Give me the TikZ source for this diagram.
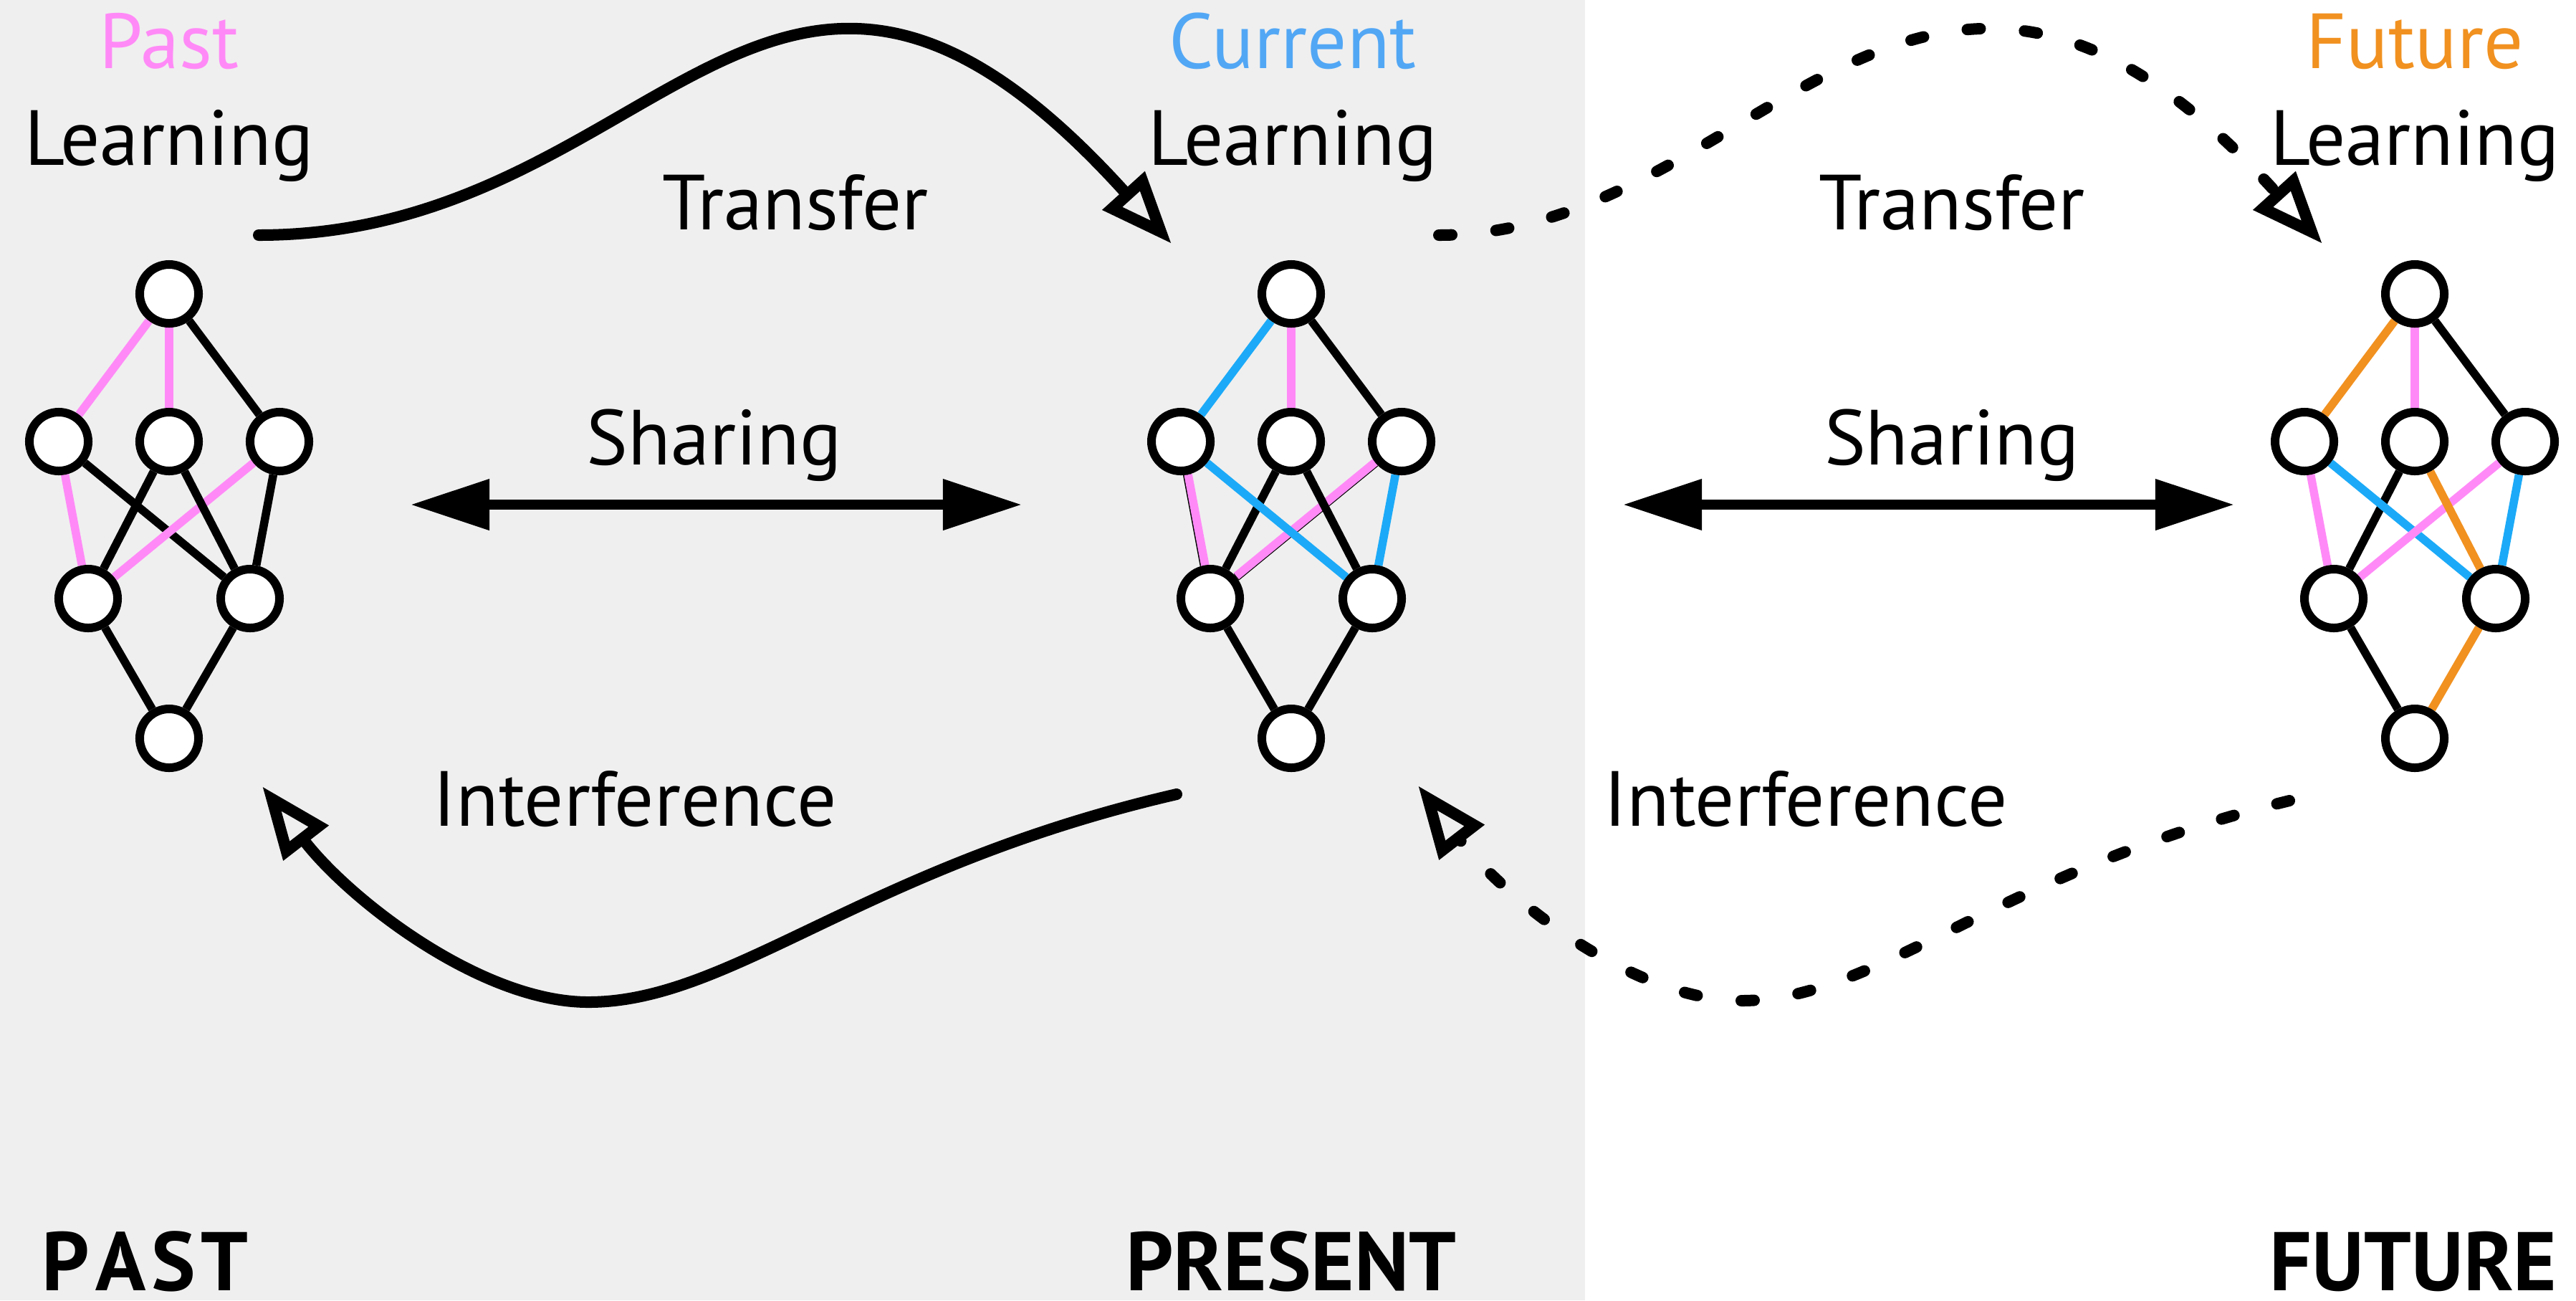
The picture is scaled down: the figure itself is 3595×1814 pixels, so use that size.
\documentclass[tikz,border=0pt]{standalone}
\usepackage{fontspec}
\setmainfont{PT Sans}
\usetikzlibrary{arrows.meta}
\definecolor{pastpink}{RGB}{255,138,247}
\definecolor{curblue}{RGB}{28,170,248}
\definecolor{curtext}{RGB}{82,167,245}
\definecolor{futorange}{RGB}{241,145,32}
\definecolor{bggray}{RGB}{239,239,239}
\pgfdeclarelayer{bg}
\pgfdeclarelayer{links}
\pgfsetlayers{bg,links,main}

\begin{document}
\begin{tikzpicture}[x=0.01cm, y=-0.01cm,
		neuron/.style={circle, draw, fill=white, line width=1.2mm,
			minimum size=8.2mm, inner sep=0pt},
		link/.style={line width=1.15mm},
		pk/.style={link, pastpink},
		bl/.style={link, curblue},
		og/.style={link, futorange},
		bk/.style={link, black},
		lbl/.style={font=\fontsize{31}{36}\selectfont, anchor=base, inner sep=0pt},
		era/.style={font=\bfseries\fontsize{33}{38}\selectfont, anchor=base, inner sep=0pt},
		flow/.style={line width=1.6mm, line cap=round, -{Triangle[open, length=10mm, width=7.6mm]}},
		flowdash/.style={flow, dash pattern=on 1.8mm off 6.2mm},
		share/.style={line width=1.4mm, {Triangle[length=11mm, width=6.8mm]}-{Triangle[length=11mm, width=6.8mm]}}]
	\useasboundingbox (0,0) rectangle (3595,1814);
	\begin{pgfonlayer}{bg}
		\fill[white] (0,0) rectangle (3595,1814);
		\fill[bggray] (0,0) rectangle (2212,1814);
	\end{pgfonlayer}
	% the three networks
	\foreach \n/\x in {p/236,c/1802,f/3370}{
		\node[neuron] (\n1) at (\x,410) {};
		\node[neuron] (\n2) at (\x-154,616) {};
		\node[neuron] (\n3) at (\x,616) {};
		\node[neuron] (\n4) at (\x+154,616) {};
		\node[neuron] (\n5) at (\x-113,835) {};
		\node[neuron] (\n6) at (\x+113,835) {};
		\node[neuron] (\n7) at (\x,1030) {};
	}
	\begin{pgfonlayer}{links}
		% past
		\draw[pk] (p1) -- (p2);
		\draw[pk] (p1) -- (p3);
		\draw[bk] (p1) -- (p4);
		\draw[pk] (p2) -- (p5);
		\draw[bk] (p2) -- (p6);
		\draw[pk] (p4) -- (p5);
		\draw[bk] (p3) -- (p5);
		\draw[bk] (p3) -- (p6);
		\draw[bk] (p4) -- (p6);
		\draw[bk] (p5) -- (p7);
		\draw[bk] (p6) -- (p7);
		% present
		\draw[bl] (c1) -- (c2);
		\draw[pk] (c1) -- (c3);
		\draw[bk] (c1) -- (c4);
		\draw[bk] (c2) -- (c5);
		\draw[pk, transform canvas={xshift=0.15mm}] (c2) -- (c5);
		\draw[bk] (c3) -- (c5);
		\draw[bk] (c4) -- (c5);
		\draw[pk, transform canvas={yshift=0.15mm}] (c4) -- (c5);
		\draw[bl] (c2) -- (c6);
		\draw[bk] (c3) -- (c6);
		\draw[bl] (c4) -- (c6);
		\draw[bk] (c5) -- (c7);
		\draw[bk] (c6) -- (c7);
		% future
		\draw[og] (f1) -- (f2);
		\draw[pk] (f1) -- (f3);
		\draw[bk] (f1) -- (f4);
		\draw[pk] (f2) -- (f5);
		\draw[bk] (f3) -- (f5);
		\draw[bl] (f2) -- (f6);
		\draw[pk] (f4) -- (f5);
		\draw[og] (f3) -- (f6);
		\draw[bl] (f4) -- (f6);
		\draw[bk] (f5) -- (f7);
		\draw[og] (f6) -- (f7);
	\end{pgfonlayer}
	% titles
	\node[lbl, pastpink] (pasttop) at (236,95) {Past};
	\node[lbl] (pastlearn) at (236,230) {Learning};
	\node[lbl, curtext] (curtop) at (1804,95) {Current};
	\node[lbl] (curlearn) at (1804,230) {Learning};
	\node[lbl, futorange] (futtop) at (3370,95) {Future};
	\node[lbl] (futlearn) at (3370,230) {Learning};
	\node[lbl] (trlblA) at (1110,320) {Transfer};
	\node[lbl] (trlblB) at (2724,320) {Transfer};
	\node[lbl] (shlblA) at (997,648) {Sharing};
	\node[lbl] (shlblB) at (2724,648) {Sharing};
	\node[lbl] (inlblA) at (886,1152) {Interference};
	\node[lbl] (inlblB) at (2520,1152) {Interference};
	\node[era] (past) at (203,1800) {P\hspace{0.8mm}A\hspace{0.8mm}S\hspace{0.8mm}T};
	\node[era] (present) at (1802,1800) {PRESENT};
	\node[era] (future) at (3368,1800) {FUTURE};
	% transfer
	\coordinate (trAs) at (361,328);
	\coordinate (trAe) at (1635,340);
	\draw[flow] (trAs) .. controls +(562,0) and +(-560,-619) .. (trAe);
	\coordinate (trBs) at (2008,328);
	\coordinate (trBe) at (3241,340);
	\draw[flowdash] (trBs) .. controls +(442,0) and +(-560,-619) .. (trBe);
	% sharing
	\coordinate (shAl) at (573,704);
	\coordinate (shAr) at (1426,704);
	\draw[share] (shAl) -- (shAr);
	\coordinate (shBl) at (2265,704);
	\coordinate (shBr) at (3118,704);
	\draw[share] (shBl) -- (shBr);
	% interference
	\coordinate (inAs) at (1642,1108);
	\coordinate (inAb) at (821,1398);
	\coordinate (inAe) at (366,1097);
	\draw[flow] (inAs) .. controls +(-438,101) and +(200,0) .. (inAb)
		.. controls +(-150,0) and +(122,158) .. (inAe);
	\coordinate (inBs) at (3195,1117);
	\coordinate (inBb) at (2430,1396);
	\coordinate (inBe) at (1979,1096);
	\draw[flowdash] (inBs) .. controls +(-410,100) and +(190,0) .. (inBb)
		.. controls +(-150,0) and +(122,158) .. (inBe);
\end{tikzpicture}
\end{document}
